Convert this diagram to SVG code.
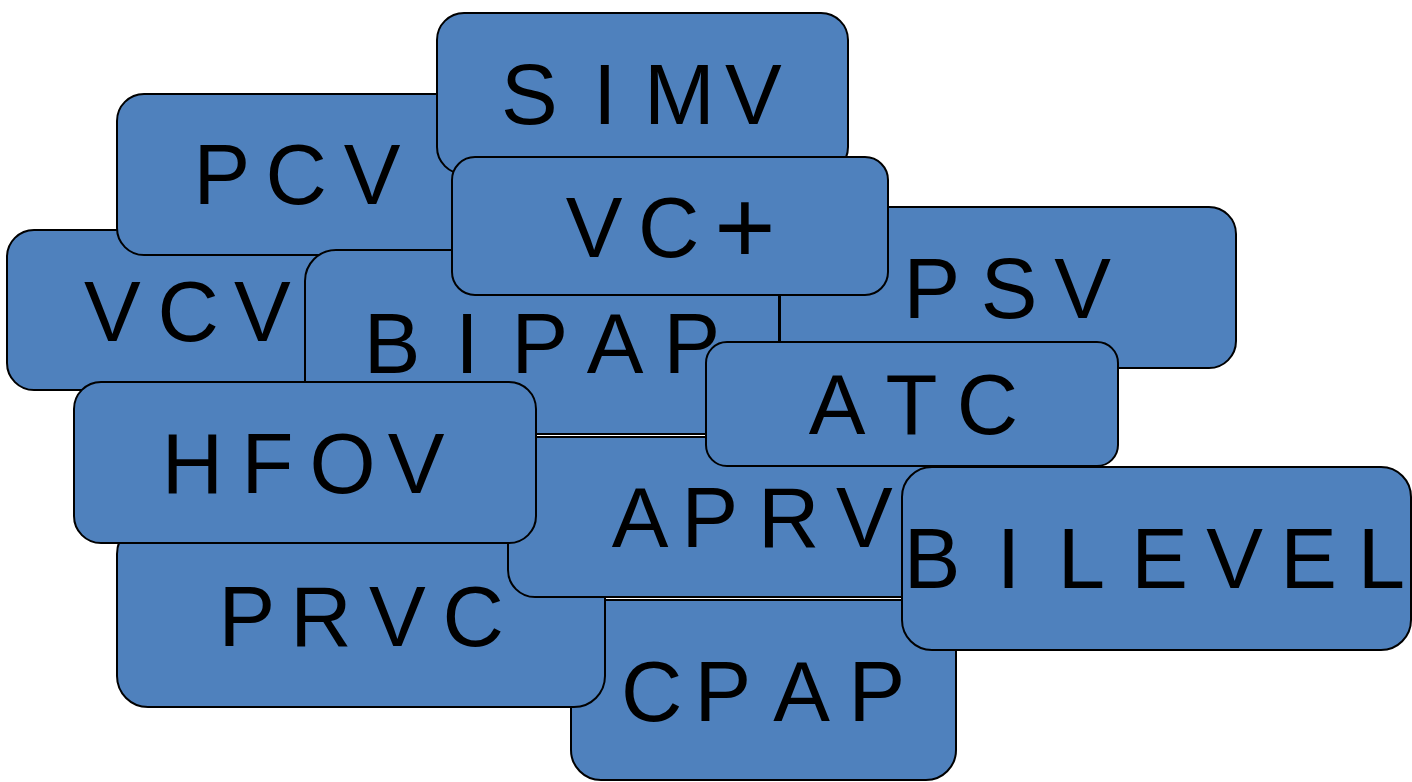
<svg xmlns="http://www.w3.org/2000/svg" width="1412" height="782" viewBox="0 0 1412 782">
<style>
.b{fill:#4F81BD;stroke:#000;stroke-width:2}
.t{font-family:"Liberation Sans",Arial,sans-serif;font-size:85px;fill:#000}
</style>
<rect width="1412" height="782" fill="#fff"/>
<g id="connectors"></g>
<g id="vcv"><rect class="b" x="7" y="230" width="362" height="160" rx="27"/><text class="t" x="84 157.5 234" y="341">VCV</text></g>
<g id="pcv"><rect class="b" x="117" y="94" width="366" height="161" rx="27"/><text class="t" x="193.5 265.5 343.7" y="204">PCV</text></g>
<g id="simv"><rect class="b" x="437" y="13" width="411" height="161" rx="27"/><text class="t" x="501 593 644 725" y="124">SIMV</text></g>
<g id="bipap"><rect class="b" x="305" y="250" width="474" height="184" rx="31"/><text class="t" x="363.8 455.2 511.5 586.7 663.5" y="373">BIPAP</text></g>
<g id="psv"><rect class="b" x="780" y="207" width="456" height="161" rx="27"/><text class="t" x="903.5 980.7 1054.2" y="318">PSV</text></g>
<g id="vcplus"><rect class="b" x="452" y="157" width="436" height="138" rx="23"/><text class="t" x="565.7 638" y="257">VC<tspan x="714.3" y="263" font-size="105">+</tspan></text></g>
<g id="cpap"><rect class="b" x="571" y="600" width="385" height="180" rx="30"/><text class="t" x="621 694.5 773.2 848.5" y="721">CPAP</text></g>
<g id="prvc"><rect class="b" x="117" y="523" width="488" height="184" rx="31"/><text class="t" x="218.5 290.3 369 442.5" y="646">PRVC</text></g>
<g id="aprv"><rect class="b" x="508" y="437" width="488" height="160" rx="27"/><text class="t" x="611.7 681.5 758 836" y="547">APRV</text></g>
<g id="hfov"><rect class="b" x="74" y="382" width="462" height="161" rx="27"/><text class="t" x="161.8 241.5 309.5 387.7" y="493">HFOV</text></g>
<g id="atc"><rect class="b" x="706" y="342" width="412" height="124" rx="21"/><text class="t" x="808.7 885.5 956.8" y="434">ATC</text></g>
<g id="bilevel"><rect class="b" x="902" y="467" width="509" height="183" rx="30"/><text class="t" x="903.8 996.7 1057.8 1131.3 1206.2 1280.3 1357.8" y="588">BILEVEL</text></g>
</svg>
